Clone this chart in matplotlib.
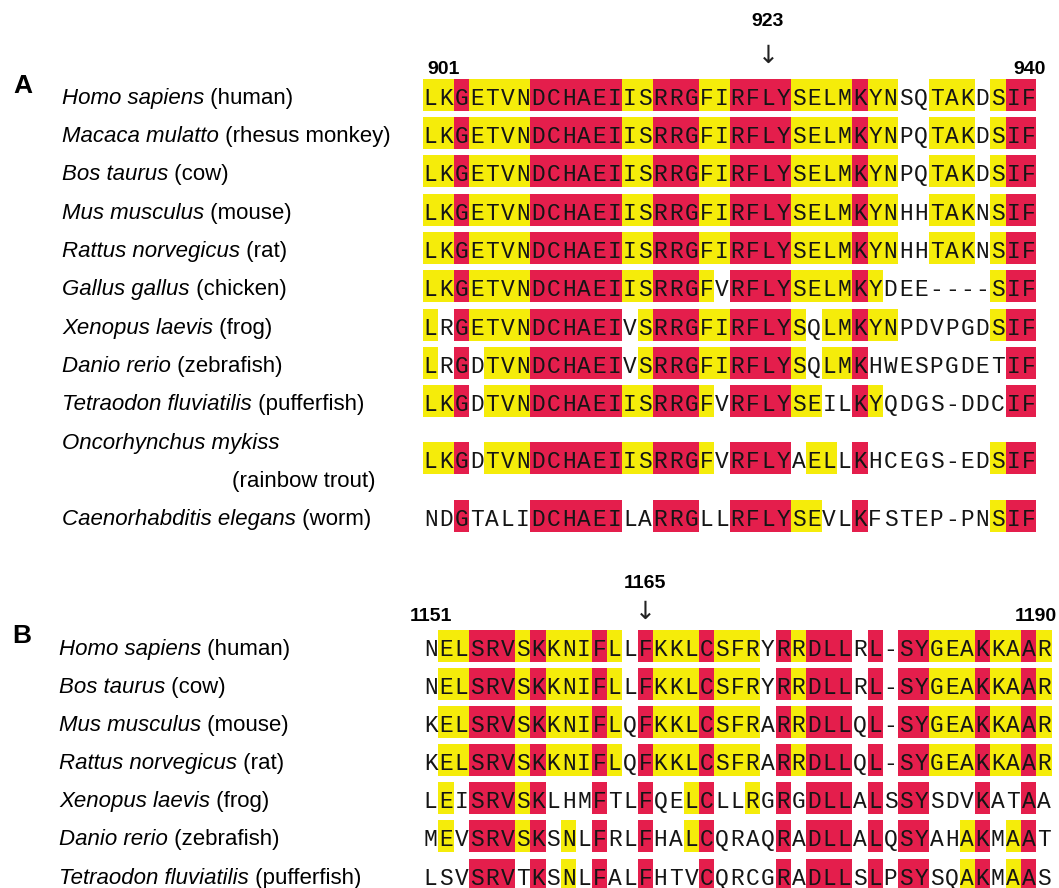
import matplotlib.pyplot as plt

# ---- data -------------------------------------------------------------
# panel A, residues 901-940
a_first, a_last, a_mark = 901, 940, 923
a_species = ['Homo sapiens', 'Macaca mulatto', 'Bos taurus', 'Mus musculus',
             'Rattus norvegicus', 'Gallus gallus', 'Xenopus laevis', 'Danio rerio',
             'Tetraodon fluviatilis', 'Oncorhynchus mykiss', 'Caenorhabditis elegans']
a_common = ['(human)', '(rhesus monkey)', '(cow)', '(mouse)', '(rat)', '(chicken)',
            '(frog)', '(zebrafish)', '(pufferfish)', '(rainbow trout)', '(worm)']
a_seqs = ['LKGETVNDCHAEIISRRGFIRFLYSELMKYNSQTAKDSIF',
          'LKGETVNDCHAEIISRRGFIRFLYSELMKYNPQTAKDSIF',
          'LKGETVNDCHAEIISRRGFIRFLYSELMKYNPQTAKDSIF',
          'LKGETVNDCHAEIISRRGFIRFLYSELMKYNHHTAKNSIF',
          'LKGETVNDCHAEIISRRGFIRFLYSELMKYNHHTAKNSIF',
          'LKGETVNDCHAEIISRRGFVRFLYSELMKYDEE----SIF',
          'LRGETVNDCHAEIVSRRGFIRFLYSQLMKYNPDVPGDSIF',
          'LRGDTVNDCHAEIVSRRGFIRFLYSQLMKHWESPGDETIF',
          'LKGDTVNDCHAEIISRRGFVRFLYSEILKYQDGS-DDCIF',
          'LKGDTVNDCHAEIISRRGFVRFLYAELLKHCEGS-EDSIF',
          'NDGTALIDCHAEILARRGLLRFLYSEVLKFSTEP-PNSIF']
# R = identical (red), Y = similar (yellow), . = unshaded
a_shade = ['YYRYYYYRRRRRRYYRRRYYRRRRYYYYRYY..YYY.YRR',
           'YYRYYYYRRRRRRYYRRRYYRRRRYYYYRYY..YYY.YRR',
           'YYRYYYYRRRRRRYYRRRYYRRRRYYYYRYY..YYY.YRR',
           'YYRYYYYRRRRRRYYRRRYYRRRRYYYYRYY..YYY.YRR',
           'YYRYYYYRRRRRRYYRRRYYRRRRYYYYRYY..YYY.YRR',
           'YYRYYYYRRRRRRYYRRRY.RRRRYYYYRY.......YRR',
           'Y.RYYYYRRRRRR.YRRRYYRRRRY.YYRYY......YRR',
           'Y.R.YYYRRRRRR.YRRRYYRRRRY.YYR.........RR',
           'YYR.YYYRRRRRRYYRRRY.RRRRYY..RY........RR',
           'YYR.YYYRRRRRRYYRRRY.RRRR.YY.R........YRR',
           '..R....RRRRRR..RRR..RRRRYY..R........YRR']

# panel B, residues 1151-1190
b_first, b_last, b_mark = 1151, 1190, 1165
b_species = ['Homo sapiens', 'Bos taurus', 'Mus musculus', 'Rattus norvegicus',
             'Xenopus laevis', 'Danio rerio', 'Tetraodon fluviatilis']
b_common = ['(human)', '(cow)', '(mouse)', '(rat)', '(frog)', '(zebrafish)', '(pufferfish)']
b_seqs = ['NELSRVSKKNIFLLFKKLCSFRYRRDLLRL-SYGEAKKAAR',
          'NELSRVSKKNIFLLFKKLCSFRYRRDLLRL-SYGEAKKAAR',
          'KELSRVSKKNIFLQFKKLCSFRARRDLLQL-SYGEAKKAAR',
          'KELSRVSKKNIFLQFKKLCSFRARRDLLQL-SYGEAKKAAR',
          'LEISRVSKLHMFTLFQELCLLRGRGDLLALSSYSDVKATAA',
          'MEVSRVSKSNLFRLFHALCQRAQRADLLALQSYAHAKMAAT',
          'LSVSRVTKSNLFALFHTVCQRCGRADLLSLPSYSQAKMAAS']
b_shade = ['.YYRRRYRYYYRY.RYYYRYYY.RYRRR.R.RRYYYRYYRY',
           '.YYRRRYRYYYRY.RYYYRYYY.RYRRR.R.RRYYYRYYRY',
           '.YYRRRYRYYYRY.RYYYRYYY.RYRRR.R.RRYYYRYYRY',
           '.YYRRRYRYYYRY.RYYYRYYY.RYRRR.R.RRYYYRYYRY',
           '.Y.RRRYR...R..R..YR..Y.R.RRR.R.RR...R..R.',
           '.Y.RRRYR.Y.R..R..YR....R.RRR.R.RR..YR.YR.',
           '...RRR.R.Y.R..R...R....R.RRR.R.RR..YR.YR.']

# ---- layout -----------------------------------------------------------
RED, YELLOW = '#E41E4C', '#F5EC0A'
x0, cw, box_h = 423, 15.33, 32
a_rows = [97, 135, 173, 212, 250, 288, 327, 365, 403, 460, 518]
b_rows = [648, 686, 724, 762, 800, 838, 877]

fig = plt.figure(figsize=(10.59, 8.88), dpi=100)
ax = fig.add_axes([0, 0, 1, 1])
ax.set_xlim(0, 1059)
ax.set_ylim(888, 0)
ax.axis('off')
renderer = fig.canvas.get_renderer()

name_font = dict(family='Liberation Sans', fontsize=16, va='baseline')
num_font = dict(family=['Liberation Sans Narrow', 'Liberation Sans'], fontsize=14,
                fontweight='bold', va='center')


def species_label(x, y, italic, plain):
    t = ax.text(x, y, italic, style='italic', **name_font)
    bb = t.get_window_extent(renderer)
    x_end = ax.transData.inverted().transform((bb.x1, 0))[0]
    ax.text(x_end, y, ' ' + plain, **name_font)


def draw_row(y, seq, shade):
    for code, col in (('R', RED), ('Y', YELLOW)):
        xs = [x0 + (i + 0.5) * cw for i, s in enumerate(shade) if s == code]
        if xs:
            ax.bar(xs, box_h, width=cw, bottom=y - box_h / 2 - 2, color=col,
                   linewidth=0, align='center')
    for i, ch in enumerate(seq):
        ax.text(x0 + (i + 0.5) * cw, y + 8, ch, ha='center', va='baseline',
                family='Liberation Mono', fontsize=16.5, color='#151515')


def header(first, last, mark, y_num, y_mark, y_arrow, first_x, last_x):
    xm = x0 + (mark - first + 0.5) * cw
    ax.text(xm, y_mark, str(mark), ha='center', **num_font)
    ax.text(xm, y_arrow, '\u2193', ha='center', va='center', fontsize=18,
            family='DejaVu Sans', color='#222222')
    ax.text(first_x, y_num, str(first), ha='left', **num_font)
    ax.text(last_x, y_num, str(last), ha='right', **num_font)


# panel A
ax.text(13, 86, 'A', family='Liberation Sans', fontsize=19, fontweight='bold', va='center')
header(a_first, a_last, a_mark, 70, 21, 56, 427, 1046)
for k, (sp, cm, seq, sh) in enumerate(zip(a_species, a_common, a_seqs, a_shade)):
    y = a_rows[k]
    if cm == '(rainbow trout)':
        ax.text(62, y - 18 + 7, sp, style='italic', **name_font)
        ax.text(232, y + 20 + 7, cm, **name_font)
    else:
        species_label(62, y + 7, sp, cm)
    draw_row(y, seq, sh)

# panel B
ax.text(12, 636, 'B', family='Liberation Sans', fontsize=19, fontweight='bold', va='center')
header(b_first, b_last, b_mark, 616, 583, 612, 410, 1057)
for k, (sp, cm, seq, sh) in enumerate(zip(b_species, b_common, b_seqs, b_shade)):
    y = b_rows[k]
    species_label(59, y + 7, sp, cm)
    draw_row(y, seq, sh)

fig.savefig('out.png', dpi=100)
